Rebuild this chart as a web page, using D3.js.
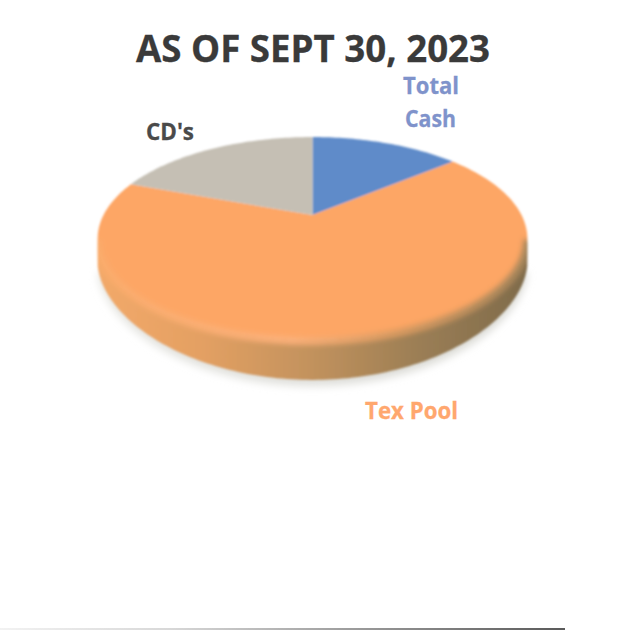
<!doctype html>
<html lang="en">
<head>
<meta charset="utf-8">
<title>As of Sept 30, 2023</title>
<script src="https://d3js.org/d3.v7.min.js"></script>
<style>
  html, body { margin: 0; padding: 0; background: #fff; }
  svg { display: block; }
  text { font-family: "Open Sans", "Noto Sans", sans-serif; font-weight: 700; }
</style>
</head>
<body>
<svg id="chart" width="622" height="630"></svg>
<script>
// values, in percent
var categories = ["Total Cash", "Tex Pool", "CD's"];
var shares = [14, 66.6, 19.4];
var faceColors = ["#5f8bc9", "#fda665", "#c5bfb4"];
var titleText = "AS OF SEPT 30, 2023";

var svg = d3.select("#chart");
var defs = svg.append("defs");

// tilted disc: apex and perspective fitted to the reference
var x0 = 312.5, y0 = 215, a = 209, b = 96, k = 0.2315;
var midY = 238, sideDrop = 28, frontDrop = 40;

function project(angle) {
  var x = Math.sin(angle), y = Math.cos(angle), w = 1 + k * y;
  return [x0 + a * x / w, y0 - b * y / w];
}

function edge(start, end) {
  var n = Math.max(2, Math.ceil((end - start) / 0.02));
  return d3.range(n + 1).map(function (i) {
    return project(start + (end - start) * i / n);
  });
}

// bottom of the wall: draws in towards the front, deepest at the front
function lower(p) {
  var t = (p[1] - midY) / 102;
  return [x0 + (p[0] - x0) * (1 - 0.07 * t),
          p[1] + sideDrop + (frontDrop - sideDrop) * t];
}

var line = d3.line();
var slices = d3.pie().sort(null)(shares);

function gradient(id, stops, x1, x2) {
  var g = defs.append("linearGradient").attr("id", id)
    .attr("gradientUnits", "userSpaceOnUse")
    .attr("x1", x1).attr("x2", x2).attr("y1", 0).attr("y2", 0);
  stops.forEach(function (s) {
    g.append("stop").attr("offset", s[0]).attr("stop-color", s[1]);
  });
}

gradient("wall", [[0, "#f3a969"], [0.25, "#e3a063"], [0.5, "#c2925d"], [0.75, "#9b7e55"], [1, "#7f6b4b"]], 96, 527);
gradient("rim", [[0, "#fbab6b"], [0.45, "#fcb079"], [0.7, "#dc9b60"], [1, "#a8865a"]], 96, 527);
gradient("floor", [[0, "#e4e4e0"], [1, "#d8d8d3"]], 96, 527);
gradient("baseline", [[0, "#f2f2f2"], [0.3, "#d8d8d8"], [0.6, "#a0a0a0"], [1, "#5a5a5a"]], 0, 565);

[["soft", 0.9], ["bevel", 2.6], ["shade", 4]].forEach(function (f) {
  defs.append("filter").attr("id", f[0])
    .attr("x", "-10%").attr("y", "-20%").attr("width", "120%").attr("height", "140%")
    .append("feGaussianBlur").attr("stdDeviation", f[1]);
});

// widest points of the face, where the wall starts
var turn = Math.PI / 2 + Math.asin(k);
var front = edge(turn, 2 * Math.PI - turn);
var under = front.map(lower).reverse();
var wallPath = line(front.concat(under)) + "Z";

defs.append("clipPath").attr("id", "outline")
  .append("path").attr("d", line(edge(0, 2 * Math.PI)) + wallPath);

// soft shadow under the disc
svg.append("path")
  .attr("d", line(under.map(function (p) { return [p[0], p[1] + 6]; })) + "Z")
  .attr("fill", "url(#floor)")
  .attr("filter", "url(#shade)");

var disc = svg.append("g").attr("filter", "url(#soft)");

disc.append("path")
  .attr("d", wallPath)
  .attr("fill", "url(#wall)");

// top face, one wedge per value
disc.selectAll("path.slice")
  .data(slices)
  .join("path")
  .attr("class", "slice")
  .attr("d", function (d) {
    return line([[x0, y0]].concat(edge(d.startAngle, d.endAngle))) + "Z";
  })
  .attr("fill", function (d, i) { return faceColors[i]; });

// rounded rim between face and wall, kept inside the silhouette
disc.append("g")
  .attr("clip-path", "url(#outline)")
  .append("path")
  .attr("d", line(front.map(function (p) { return [p[0], p[1] + 1]; })))
  .attr("fill", "none")
  .attr("stroke", "url(#rim)")
  .attr("stroke-width", 8)
  .attr("filter", "url(#bevel)");

// labels
function label(txt, x, y, size, color, len) {
  svg.append("text")
    .attr("x", x).attr("y", y)
    .attr("font-size", size)
    .attr("fill", color)
    .attr("stroke", color)
    .attr("stroke-width", 0.3)
    .attr("textLength", len)
    .attr("lengthAdjust", "spacingAndGlyphs")
    .text(txt);
}

label(titleText, 136, 62, 38, "#3a3a3a", 354);
label("Total", 403, 94, 24, "#7f93cb", 56);
label("Cash", 405, 127, 24, "#7f93cb", 51);
label(categories[2], 146, 140, 23, "#4a4a4a", 48);
label(categories[1], 365, 419, 24, "#ffa76e", 93);

// scan edge along the bottom of the page
svg.append("rect")
  .attr("x", 0).attr("y", 628).attr("width", 565).attr("height", 2)
  .attr("fill", "url(#baseline)");
</script>
</body>
</html>
